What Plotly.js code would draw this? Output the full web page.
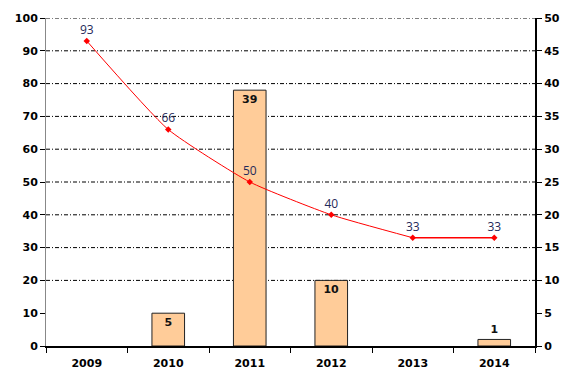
<!DOCTYPE html>
<html><head><meta charset="utf-8">
<script src="https://cdn.plot.ly/plotly-3.0.1.min.js"></script>
<style>html,body{margin:0;padding:0;background:#fff}#c{width:581px;height:384px}</style>
</head><body><div id="c"></div>
<script>
const years = ['2009','2010','2011','2012','2013','2014'];
const barValues = [0, 5, 39, 10, 0, 1];
const lineValues = [93, 66, 50, 40, 33, 33];
const gridValues = [20, 30, 40, 50, 60, 70, 80, 90, 100];
const leftTicks = [0,10,20,30,40,50,60,70,80,90,100];
const rightTicks = [0,5,10,15,20,25,30,35,40,45,50];

const tickFont = {family:'DejaVu Sans', size:11, color:'#000', weight:'bold'};

const bars = {
  type:'bar', x:years, y:barValues, yaxis:'y', width:0.4,
  marker:{color:'#FFCC99', line:{color:'#222', width:barValues.map(v => v > 0 ? 1 : 0)}},
  text: barValues.map(v => v > 0 ? String(v) : ''),
  textposition: barValues.map(v => v === 0 ? 'none' : (v < 2 ? 'outside' : 'inside')),
  insidetextanchor:'end',
  textfont:{family:'DejaVu Sans', size:11, color:'#111', weight:'bold'},
  cliponaxis:false, hoverinfo:'skip'
};
const n = lineValues.length;
const curve = {
  type:'scatter', mode:'lines', x:years.slice(0, n-1), y:lineValues.slice(0, n-1), yaxis:'y2',
  line:{color:'#FF0000', width:1, shape:'spline', smoothing:0.5}, hoverinfo:'skip'
};
const tail = {
  type:'scatter', mode:'lines', x:years.slice(n-2), y:lineValues.slice(n-2), yaxis:'y2',
  line:{color:'#FF0000', width:1.5}, hoverinfo:'skip'
};
const pts = {
  type:'scatter', mode:'markers+text', x:years, y:lineValues, yaxis:'y2',
  marker:{color:'#FF0000', symbol:'diamond', size:5},
  text: lineValues.map(String), textposition:'top center',
  textfont:{family:'Open Sans', size:12, color:'#1F2A5A'},
  cliponaxis:false, hoverinfo:'skip'
};

const shapes = gridValues.map(v => ({
  type:'line', xref:'paper', yref:'y2', x0:0, x1:1, y0:v, y1:v,
  line:{color:'#000', width:1, dash:'4px,2px,1px,2px'}, layer:'below'
}));

const layout = {
  width:581, height:384, margin:{l:46, r:46, t:18, b:38},
  paper_bgcolor:'#fff', plot_bgcolor:'#fff', showlegend:false,
  shapes:shapes,
  xaxis:{type:'category', tickson:'boundaries', ticks:'outside', ticklen:5, tickcolor:'#000',
    showline:true, linecolor:'#000', linewidth:2, showgrid:false, tickfont:tickFont,
    ticklabelstandoff:6},
  yaxis:{side:'right', range:[0,50], tickvals:rightTicks, showgrid:false, zeroline:false,
    showline:true, linecolor:'#000', linewidth:2, ticks:'outside', ticklen:5, tickcolor:'#000',
    tickfont:tickFont},
  yaxis2:{overlaying:'y', side:'left', range:[0,100], tickvals:leftTicks, showgrid:false, zeroline:false,
    showline:true, linecolor:'#888', linewidth:1, ticks:'outside', ticklen:5, tickcolor:'#000',
    tickfont:tickFont}
};
Plotly.newPlot('c', [bars, curve, tail, pts], layout, {staticPlot:true});
</script></body></html>
